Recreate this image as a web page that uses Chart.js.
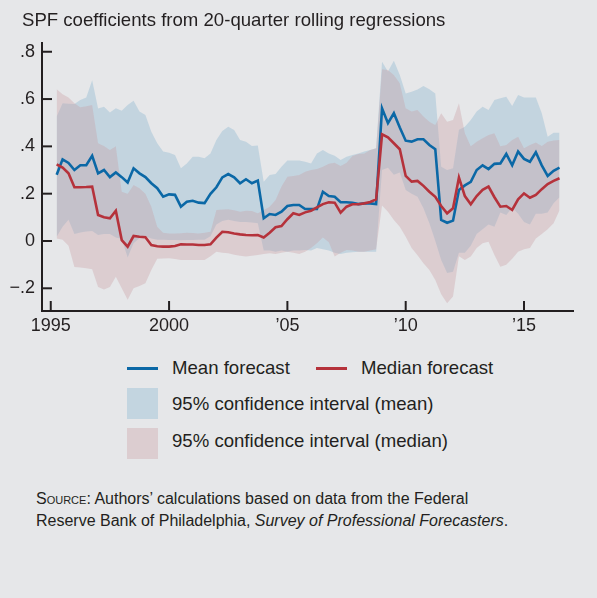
<!DOCTYPE html>
<html lang="en">
<head>
    <meta charset="UTF-8">
    <title>SPF coefficients</title>
    <script src="https://cdn.jsdelivr.net/npm/chart.js"></script>
    <style>
        body { margin: 0; background: #e6e7e9; font-family: "Liberation Sans", Arial, sans-serif; color: #231f20; }
        #wrap { position: relative; width: 597px; height: 598px; }
        #title { position: absolute; left: 22px; top: 9px; font-size: 18.6px; white-space: nowrap; }
        #Chart1 { position: absolute; left: 0; top: 0; }
        .leg { position: absolute; font-size: 18.6px; white-space: nowrap; }
        .swatch { position: absolute; }
        #source { position: absolute; left: 36px; top: 488px; font-size: 16px; line-height: 22px; }
    </style>
</head>
<body>
<div id="wrap">
    <canvas id="Chart1" width="597" height="345"></canvas>
    <div id="title">SPF coefficients from 20-quarter rolling regressions</div>

    <div class="swatch" style="left:127px; top:367px; width:31px; height:3px; background:#0b68a6;"></div>
    <div class="leg" style="left:172px; top:357px;">Mean forecast</div>
    <div class="swatch" style="left:316px; top:367px; width:31px; height:3px; background:#b5323b;"></div>
    <div class="leg" style="left:361px; top:357px;">Median forecast</div>

    <div class="swatch" style="left:127px; top:388px; width:31px; height:31px; background:#c3d5e0;"></div>
    <div class="leg" style="left:172px; top:393px;">95% confidence interval (mean)</div>
    <div class="swatch" style="left:127px; top:428px; width:31px; height:31px; background:#dccdd0;"></div>
    <div class="leg" style="left:172px; top:430px;">95% confidence interval (median)</div>

    <div id="source"><span style="font-variant: small-caps;">Source</span>: Authors’ calculations based on data from the Federal<br>Reserve Bank of Philadelphia, <i>Survey of Professional Forecasters</i>.</div>
</div>

<script>
    // quarterly observations, 1995:Q1 .. 2016:Q2
    const firstQuarter = 1995.25;

    const meanForecast = [
        0.28, 0.345, 0.33, 0.30, 0.32, 0.32, 0.36, 0.286, 0.30, 0.27,
        0.29, 0.27, 0.247, 0.307, 0.286, 0.27, 0.244, 0.223, 0.187, 0.197,
        0.195, 0.145, 0.166, 0.17, 0.162, 0.16, 0.199, 0.227, 0.269, 0.283,
        0.269, 0.244, 0.261, 0.244, 0.255, 0.096, 0.114, 0.11, 0.124, 0.148,
        0.152, 0.152, 0.135, 0.135, 0.135, 0.208, 0.19, 0.187, 0.164, 0.164,
        0.162, 0.156, 0.159, 0.159, 0.156, 0.561, 0.498, 0.54, 0.48, 0.424,
        0.42, 0.43, 0.43, 0.406, 0.388, 0.089, 0.077, 0.086, 0.216, 0.235,
        0.25, 0.30, 0.32, 0.304, 0.326, 0.328, 0.368, 0.32, 0.378, 0.347,
        0.335, 0.375, 0.32, 0.275, 0.297, 0.31
    ];
    const medianForecast = [
        0.324, 0.31, 0.286, 0.227, 0.227, 0.228, 0.23, 0.11, 0.10, 0.096,
        0.128, 0.004, -0.024, 0.021, 0.018, 0.016, -0.017, -0.022, -0.024, -0.024,
        -0.021, -0.014, -0.015, -0.015, -0.017, -0.017, -0.014, 0.014, 0.039, 0.037,
        0.032, 0.028, 0.025, 0.024, 0.025, 0.015, 0.035, 0.058, 0.063, 0.092,
        0.117, 0.11, 0.121, 0.128, 0.142, 0.156, 0.164, 0.162, 0.12, 0.145,
        0.155, 0.155, 0.159, 0.165, 0.176, 0.451, 0.438, 0.413, 0.388, 0.275,
        0.251, 0.254, 0.233, 0.208, 0.187, 0.148, 0.117, 0.138, 0.268, 0.19,
        0.155, 0.19, 0.216, 0.23, 0.185, 0.145, 0.148, 0.131, 0.176, 0.201,
        0.183, 0.195, 0.219, 0.241, 0.254, 0.265
    ];
    const meanUpper = [
        0.526, 0.582, 0.58, 0.579, 0.596, 0.607, 0.68, 0.56, 0.568, 0.543,
        0.561, 0.551, 0.575, 0.593, 0.547, 0.533, 0.462, 0.413, 0.378, 0.373,
        0.364, 0.307, 0.328, 0.356, 0.356, 0.35, 0.37, 0.427, 0.465, 0.483,
        0.469, 0.427, 0.42, 0.402, 0.404, 0.25, 0.279, 0.283, 0.314, 0.34,
        0.34, 0.34, 0.335, 0.328, 0.37, 0.385, 0.37, 0.36, 0.342, 0.356,
        0.364, 0.37, 0.378, 0.385, 0.392, 0.758, 0.716, 0.762, 0.702, 0.624,
        0.631, 0.64, 0.655, 0.641, 0.624, 0.314, 0.30, 0.307, 0.47, 0.483,
        0.512, 0.547, 0.568, 0.554, 0.596, 0.603, 0.61, 0.571, 0.617, 0.607,
        0.607, 0.607, 0.54, 0.441, 0.458, 0.458
    ];
    const meanLower = [
        0.018, 0.06, 0.09, 0.03, 0.036, 0.04, 0.042, 0.025, 0.03, 0.03,
        0.015, 0.008, -0.07, -0.01, 0.012, 0.02, 0.01, 0.005, 0.005, 0.004,
        0.004, 0.003, 0.004, 0.004, 0.005, 0.005, 0.02, 0.07, 0.085, 0.09,
        0.085, 0.08, 0.08, 0.078, 0.075, -0.04, -0.04, -0.045, -0.04, -0.045,
        -0.04, -0.04, -0.038, -0.04, -0.03, -0.035, -0.04, -0.05, -0.055, -0.05,
        -0.048, -0.045, -0.045, -0.045, -0.045, 0.30, 0.31, 0.28, 0.29, 0.216,
        0.20, 0.187, 0.138, 0.075, 0.0, -0.08, -0.135, -0.13, -0.05, -0.05,
        -0.02, 0.03, 0.05, 0.07, 0.06, 0.12, 0.11, 0.14, 0.115, 0.08,
        0.07, 0.115, 0.115, 0.12, 0.16, 0.185
    ];
    const medianUpper = [
        0.641, 0.62, 0.607, 0.582, 0.565, 0.57, 0.575, 0.413, 0.402, 0.385,
        0.40, 0.208, 0.20, 0.237, 0.223, 0.20, 0.145, 0.06, 0.035, 0.032,
        0.032, 0.033, 0.035, 0.034, 0.032, 0.035, 0.039, 0.131, 0.133, 0.134,
        0.13, 0.124, 0.128, 0.127, 0.117, 0.131, 0.145, 0.173, 0.23, 0.272,
        0.275, 0.279, 0.293, 0.30, 0.304, 0.314, 0.326, 0.331, 0.317, 0.331,
        0.359, 0.368, 0.37, 0.385, 0.392, 0.726, 0.723, 0.702, 0.667, 0.561,
        0.547, 0.554, 0.526, 0.504, 0.49, 0.54, 0.504, 0.512, 0.582, 0.455,
        0.40, 0.42, 0.434, 0.448, 0.455, 0.40, 0.406, 0.427, 0.441, 0.392,
        0.406, 0.416, 0.402, 0.42, 0.425, 0.427
    ];
    const medianLower = [
        0.011, 0.005, -0.02, -0.11, -0.112, -0.115, -0.12, -0.195, -0.205, -0.195,
        -0.151, -0.20, -0.248, -0.20, -0.19, -0.179, -0.123, -0.075, -0.074, -0.073,
        -0.076, -0.08, -0.08, -0.08, -0.08, -0.08, -0.065, -0.045, -0.05, -0.052,
        -0.058, -0.062, -0.066, -0.062, -0.059, -0.055, -0.052, -0.055, -0.05, -0.045,
        -0.05, -0.055, -0.045, -0.03, -0.01, 0.015, -0.005, -0.066, -0.05, -0.038,
        -0.04, -0.045, -0.045, -0.04, -0.035, 0.15, 0.124, 0.089, 0.06, 0.018,
        -0.03, -0.06, -0.094, -0.123, -0.165, -0.225, -0.263, -0.235, -0.065, -0.08,
        -0.066, -0.03, -0.01, -0.003, -0.059, -0.109, -0.101, -0.075, -0.045, -0.035,
        -0.03, 0.011, 0.03, 0.05, 0.075, 0.13
    ];

    const yearTicks = [1995, 2000, 2005, 2010, 2015];
    const yearLabels = ['1995', '2000', '\u201905', '\u201910', '\u201915'];

    const inkColor = '#231f20';
    const quarters = meanForecast.map((_, i) => firstQuarter + i / 4);
    const pts = arr => arr.map((v, i) => ({ x: quarters[i], y: v }));

    // short tick marks drawn inside the plot, like the original
    const innerTicks = {
        id: 'innerTicks',
        afterDatasetsDraw(chart) {
            const { ctx, chartArea, scales } = chart;
            ctx.save();
            ctx.strokeStyle = inkColor;
            ctx.lineWidth = 2;
            scales.y.ticks.forEach(t => {
                const py = scales.y.getPixelForValue(t.value);
                ctx.beginPath();
                ctx.moveTo(chartArea.left, py);
                ctx.lineTo(chartArea.left + 10, py);
                ctx.stroke();
            });
            scales.x.ticks.forEach(t => {
                const px = scales.x.getPixelForValue(t.value);
                ctx.beginPath();
                ctx.moveTo(px, chartArea.bottom);
                ctx.lineTo(px, chartArea.bottom - 10);
                ctx.stroke();
            });
            ctx.restore();
        }
    };

    const font = { family: '"Liberation Sans", Arial, sans-serif', size: 18 };

    new Chart(document.getElementById('Chart1'), {
        type: 'line',
        data: {
            datasets: [
                { label: 'Median forecast', data: pts(medianForecast), borderColor: '#b5323b', borderWidth: 2.6, fill: false },
                { label: 'Mean forecast', data: pts(meanForecast), borderColor: '#0b68a6', borderWidth: 2.6, fill: false },
                { label: 'median upper', data: pts(medianUpper), borderWidth: 0, backgroundColor: 'rgba(201,157,162,0.35)', fill: '+1' },
                { label: 'median lower', data: pts(medianLower), borderWidth: 0, fill: false },
                { label: 'mean upper', data: pts(meanUpper), borderWidth: 0, backgroundColor: 'rgba(130,179,207,0.35)', fill: '+1' },
                { label: 'mean lower', data: pts(meanLower), borderWidth: 0, fill: false }
            ]
        },
        options: {
            responsive: false,
            animation: false,
            elements: { point: { radius: 0 }, line: { tension: 0 } },
            layout: { padding: { top: 43, right: 24, left: 0, bottom: 0 } },
            plugins: {
                legend: { display: false },
                tooltip: { enabled: false },
                filler: { propagate: false }
            },
            scales: {
                x: {
                    type: 'linear',
                    min: 1994.63,
                    max: 2017.07,
                    afterFit(scale) { scale.height = 34; },
                    afterBuildTicks(scale) { scale.ticks = yearTicks.map(v => ({ value: v })); },
                    grid: { display: false, drawTicks: false },
                    border: { display: true, color: inkColor, width: 2 },
                    ticks: {
                        color: inkColor,
                        font: font,
                        padding: 4,
                        maxRotation: 0,
                        callback: v => yearLabels[yearTicks.indexOf(v)]
                    }
                },
                y: {
                    min: -0.296,
                    max: 0.837,
                    afterFit(scale) { scale.width = 42; },
                    grid: { display: false, drawTicks: false },
                    border: { display: true, color: inkColor, width: 2 },
                    ticks: {
                        stepSize: 0.2,
                        includeBounds: false,
                        color: inkColor,
                        font: font,
                        padding: 7,
                        callback: v => {
                            if (Math.abs(v) < 1e-9) return '0';
                            return (v < 0 ? '\u2212' : '') + Math.abs(v).toFixed(1).replace(/^0/, '');
                        }
                    }
                }
            }
        },
        plugins: [innerTicks]
    });
</script>
</body>
</html>
